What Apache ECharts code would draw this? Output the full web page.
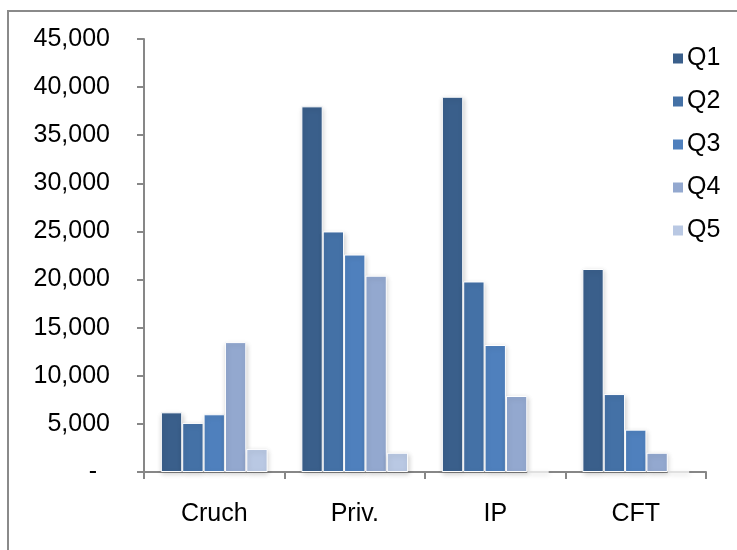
<!DOCTYPE html>
<html>
<head>
<meta charset="utf-8">
<script src="https://cdn.jsdelivr.net/npm/echarts@6/dist/echarts.min.js"></script>
<style>
  html, body { margin: 0; padding: 0; background: #fff; }
  #chart { width: 737px; height: 550px; }
</style>
</head>
<body>
<div id="chart"></div>
<script>
// Categories and quarterly values
const categories = ['Cruch', 'Priv.', 'IP', 'CFT'];
const seriesNames = ['Q1', 'Q2', 'Q3', 'Q4', 'Q5'];
const q1 = [6200, 38000, 39000, 21100];
const q2 = [5100, 25000, 19800, 8100];
const q3 = [6000, 22600, 13200, 4400];
const q4 = [13500, 20400, 7900, 2000];
const q5 = [2400, 2000, 0, 0];
const seriesValues = [q1, q2, q3, q4, q5];
const seriesColors = ['#3a5f8b', '#4471a6', '#4f80bd', '#93a8cf', '#b9c8e3'];

const FONT = '"Liberation Sans", Arial, sans-serif';
const AXIS_GRAY = '#878787';

const chart = echarts.init(document.getElementById('chart'), null, { renderer: 'canvas' });

chart.setOption({
  backgroundColor: '#ffffff',
  animation: false,
  graphic: [{
    type: 'rect',
    shape: { x: 8, y: 11, width: 800, height: 600 },
    style: { fill: 'none', stroke: '#8a8a8a', lineWidth: 2 },
    silent: true,
    z: 100
  }],
  grid: { left: 144, right: 31, top: 39, bottom: 78, containLabel: false },
  legend: {
    orient: 'vertical',
    left: 666,
    top: 41,
    itemWidth: 12,
    itemHeight: 12,
    itemGap: 18,
    icon: 'rect',
    textStyle: { fontFamily: FONT, fontSize: 25, color: '#000', padding: [0, 0, 0, -2] },
    data: seriesNames
  },
  xAxis: {
    type: 'category',
    data: categories,
    axisLine: { lineStyle: { color: AXIS_GRAY, width: 2 } },
    axisTick: { show: true, length: 7, lineStyle: { color: AXIS_GRAY, width: 2 } },
    axisLabel: { fontFamily: FONT, fontSize: 25, color: '#000', margin: 30 },
    splitLine: { show: false }
  },
  yAxis: {
    type: 'value',
    min: 0,
    max: 45000,
    interval: 5000,
    axisLine: { show: true, lineStyle: { color: AXIS_GRAY, width: 2 } },
    axisTick: { show: true, length: 7, lineStyle: { color: AXIS_GRAY, width: 2 } },
    splitLine: { show: false },
    axisLabel: {
      fontFamily: FONT,
      fontSize: 25,
      color: '#000',
      margin: 34,
      formatter: function (v) {
        if (v === 0) return '{z|-}';
        return v.toLocaleString('en-US');
      },
      rich: {
        z: { fontFamily: FONT, fontSize: 25, color: '#000', padding: [0, 13, 0, 0] }
      }
    }
  },
  series: seriesNames.map(function (name, i) {
    return {
      name: name,
      type: 'bar',
      data: seriesValues[i],
      barGap: '0%',
      barCategoryGap: '24%',
      itemStyle: {
        color: seriesColors[i],
        borderColor: '#ffffff',
        borderWidth: 1,
        shadowBlur: 5,
        shadowColor: 'rgba(0,0,0,0.18)',
        shadowOffsetX: 1,
        shadowOffsetY: 2
      }
    };
  })
});
</script>
</body>
</html>
